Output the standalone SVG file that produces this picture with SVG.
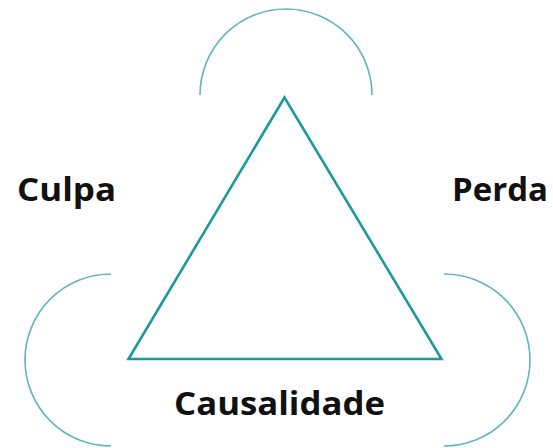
<svg xmlns="http://www.w3.org/2000/svg" width="553" height="448" viewBox="0 0 553 448">
<style>
.arc{fill:none;stroke:#62b6ba;stroke-width:1.6}
.tri{fill:none;stroke:#1c9a9b;stroke-width:2.6;stroke-linejoin:miter}
.lbl{font-family:"Open Sans","Noto Sans",sans-serif;font-weight:700;font-size:33px;fill:#111}
</style>
<rect width="553" height="448" fill="#fff"/>
<g id="connectors">
<path class="arc" d="M200,95 A86,86 0 0 1 372,95"/>
<path class="arc" d="M111,274 A86,86 0 0 0 111,446"/>
<path class="arc" d="M444,274 A86,86 0 0 1 444,446"/>
</g>
<g id="triangle">
<polygon class="tri" points="284.5,97.5 128.5,359 441.5,359"/>
</g>
<g id="culpa"><text class="lbl" x="17" y="201" textLength="99" lengthAdjust="spacingAndGlyphs">Culpa</text></g>
<g id="perda"><text class="lbl" x="452" y="201" textLength="96" lengthAdjust="spacingAndGlyphs">Perda</text></g>
<g id="causalidade"><text class="lbl" x="174" y="415" textLength="211" lengthAdjust="spacingAndGlyphs">Causalidade</text></g>
</svg>
